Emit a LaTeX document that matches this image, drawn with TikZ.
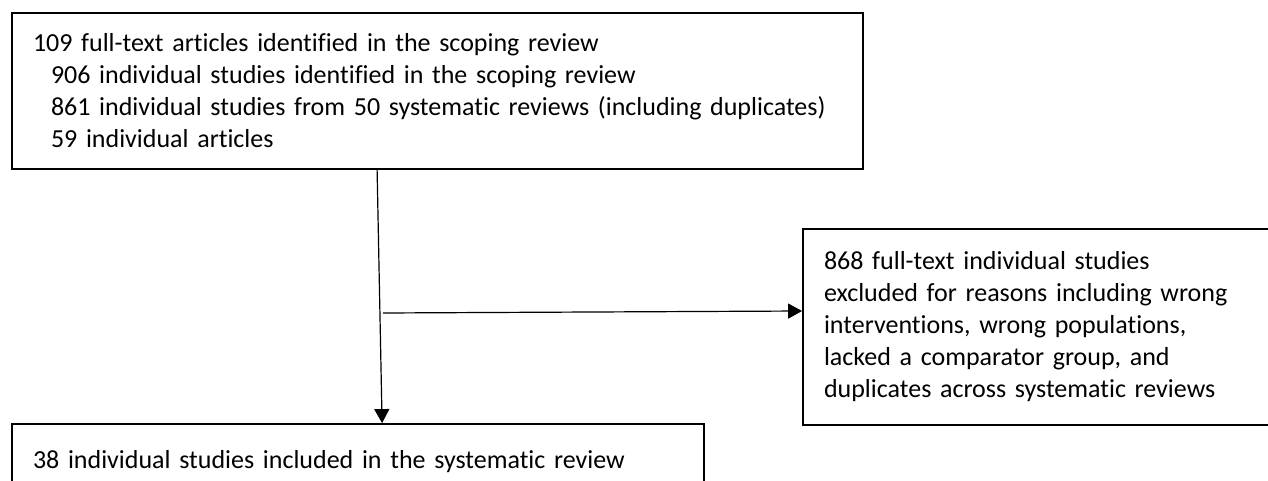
\documentclass[tikz,border=0pt]{standalone}
\usepackage{fontspec}
\setmainfont{Carlito}[Ligatures={NoCommon}]
\usetikzlibrary{arrows.meta}
\tikzset{
  box/.style={draw=black, line width=1.8pt, rectangle, align=left, inner xsep=21pt, inner ysep=0pt,
    font=\fontsize{26}{32}\selectfont},
  arr/.style={draw=black, line width=1.2pt, -{Triangle[length=14pt,width=15pt]}}
}
\begin{document}
\begin{tikzpicture}[x=1pt,y=1pt]
\useasboundingbox (0,0) rectangle (1268,480);
\node[box, minimum width=851pt, minimum height=156pt, text width=809pt] (top) at (437.5,389)
 {109 full-text articles identified in the scoping review\\
  \hspace*{18pt}906 individual studies identified in the scoping review\\
  \hspace*{18pt}861 individual studies from 50 systematic reviews (including duplicates)\\
  \hspace*{18pt}59 individual articles};
\node[box, minimum width=477pt, minimum height=196pt, text width=435pt] (excl) at (1041.5,153)
 {868 full-text individual studies\\
  excluded for reasons including wrong\\
  interventions, wrong populations,\\
  lacked a comparator group, and\\
  duplicates across systematic reviews\\[8pt]};
\node[box, minimum width=692pt, minimum height=76pt, text width=650pt] (incl) at (358,18)
 {38 individual studies included in the systematic review};
\coordinate (branch) at (383,167);
\draw[arr] ([xshift=366pt]top.south west) -- ([xshift=371pt]incl.north west);
\draw[arr] (branch) -- ([yshift=16pt]excl.west);
\end{tikzpicture}
\end{document}
